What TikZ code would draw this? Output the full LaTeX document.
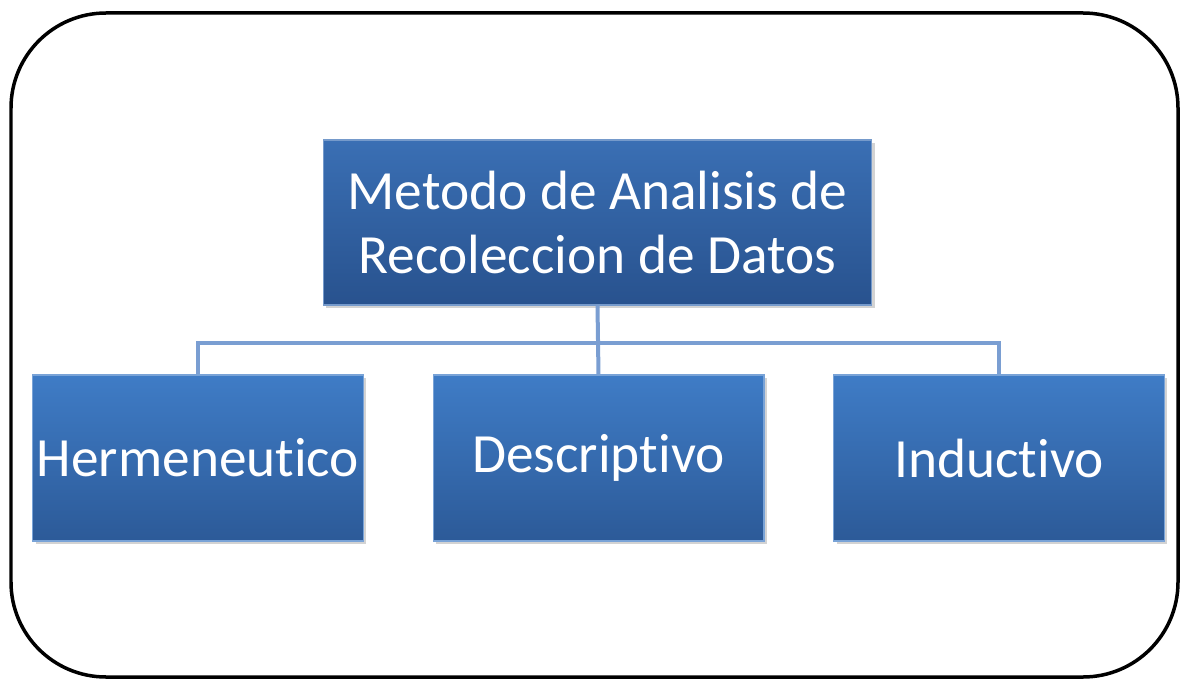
\documentclass[tikz,border=0pt]{standalone}
\usepackage{fontspec}
\setmainfont{Carlito}[Ligatures=NoCommon]
\usepackage{tikz}
\usetikzlibrary{positioning,shadows,calc}
\definecolor{boxoben}{HTML}{3F7CC6}
\definecolor{boxunten}{HTML}{2C5A98}
\definecolor{kopfoben}{HTML}{3A6FB4}
\definecolor{kopfunten}{HTML}{28528E}
\definecolor{linie}{HTML}{7A9ED2}
\tikzset{
  kasten/.style={draw=boxoben!70!white,line width=0.6pt,top color=boxoben,bottom color=boxunten,
    minimum width=6.62cm,minimum height=3.32cm,text=white,align=center,
    font=\fontsize{31.5}{36}\selectfont,inner sep=0pt,
    drop shadow={shadow xshift=0.06cm,shadow yshift=-0.06cm,opacity=0.35}},
  kopf/.style={kasten,top color=kopfoben,bottom color=kopfunten,draw=kopfoben!70!white,
    minimum width=10.98cm,minimum height=3.3cm},
  verbindung/.style={draw=linie,line width=0.08cm}
}
\begin{document}
\begin{tikzpicture}[x=0.02cm,y=-0.02cm]
%Rahmen in Pixelkoordinaten (y nach unten)
\useasboundingbox (0,0) rectangle (1180,679);
\draw[black,line width=0.07cm,rounded corners=1.9cm] (11,13) rectangle (1178,677);
\node[kopf] (methode) at (597.5,222.5) {Metodo de Analisis de\\Recoleccion de Datos};
\node[kasten] (herm) at (198,458) {Hermeneutico};
\node[kasten] (desk) at (598.5,458) {Descriptivo};
\node[kasten] (induk) at (999,458) {Inductivo};
\coordinate (knoten) at (598,343);
\begin{scope}[on background layer/.try]
\draw[verbindung] (methode.south) -- (desk.north);
\draw[verbindung] (herm.north) |- (knoten) -| (induk.north);
\end{scope}
\end{tikzpicture}
\end{document}
